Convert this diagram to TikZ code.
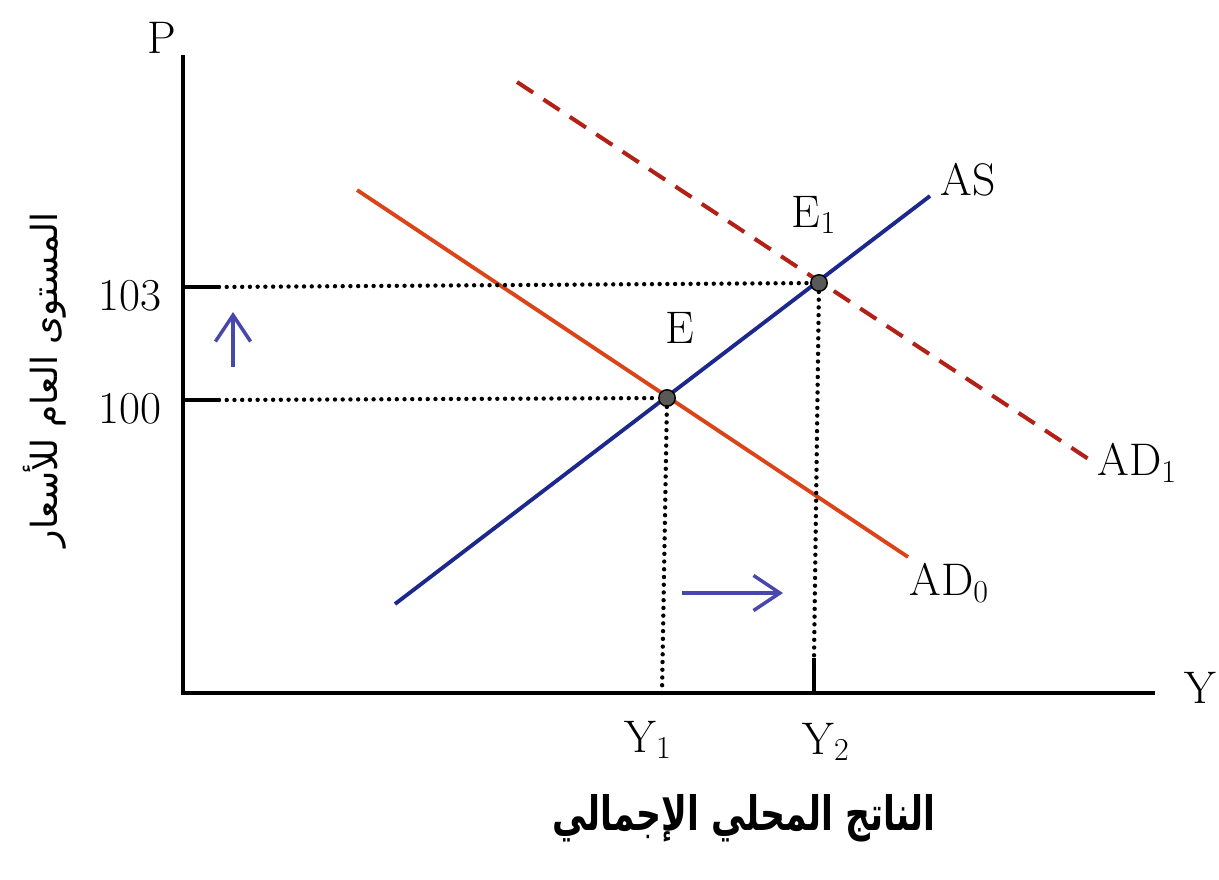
\documentclass[tikz,border=0pt]{standalone}
\usepackage{fontspec}
\usepackage{graphicx}
\usetikzlibrary{arrows.meta}
\TeXXeTstate=1
\newfontfamily\arabicfont[Script=Arabic]{DejaVu Sans}
\definecolor{asblue}{RGB}{28,40,140}
\definecolor{adorange}{RGB}{218,68,24}
\definecolor{adred}{RGB}{178,32,22}
\definecolor{shiftblue}{RGB}{72,72,172}

\begin{document}
\begin{tikzpicture}[
  x=0.02cm, y=-0.02cm,
  every node/.style={font=\fontsize{26}{30}\selectfont, inner sep=0pt},
  axis/.style={line width=2pt, black},
  guide/.style={line width=2.5pt, line cap=round, dash pattern=on 0pt off 4.4pt, black},
  supply/.style={line width=2.2pt, asblue},
  demand/.style={line width=2.2pt, adorange},
  newdemand/.style={line width=2.3pt, adred, dash pattern=on 11pt off 7pt},
  shiftarrow/.style={line width=2pt, shiftblue, -{Straight Barb[length=15pt,width=20pt]}},
  eq/.style={circle, draw=black, fill=black!65, minimum size=0.33cm, line width=0.8pt}
]
  \useasboundingbox (0,0) rectangle (1219,879);

  \coordinate (O) at (183,693);
  \coordinate (Ptop) at (183,55);
  \coordinate (Yend) at (1155,693);
  \draw[axis] (Ptop) -- (O) -- (Yend);
  \node (P) at (162,38) {P};
  \node (Y) at (1200,688) {Y};

  \coordinate (AS0) at (395,604);
  \coordinate (AS1) at (930,196);
  \coordinate (AD00) at (357,190);
  \coordinate (AD01) at (908,557);
  \coordinate (AD10) at (517,82);
  \coordinate (AD11) at (1093,462);
  \draw[demand] (AD00) -- (AD01);
  \draw[newdemand] (AD10) -- (AD11);
  \draw[supply] (AS0) -- (AS1);

  \node[eq] (E) at (667,398) {};
  \node[eq] (E1) at (819,283) {};

  \coordinate (p100) at (183,400);
  \coordinate (t100) at (219,400);
  \coordinate (p103) at (183,287);
  \coordinate (t103) at (219,287);
  \draw[axis, line width=1.8pt] (p100) -- (t100);
  \draw[axis, line width=1.8pt] (p103) -- (t103);
  \draw[guide] (t100) -- (E);
  \draw[guide] (t103) -- (E1);

  \coordinate (y1) at (662,693);
  \coordinate (y2) at (814,693);
  \coordinate (y2t) at (814,658);
  \draw[guide] (E) -- (y1);
  \draw[guide] (E1) -- (y2t);
  \draw[axis, line width=1.8pt] (y2t) -- (y2);

  \node (l103) at (130,296) {103};
  \node (l100) at (130,409) {100};
  \node (Y1) at (648,740) {Y\textsubscript{1}};
  \node (Y2) at (826,742) {Y\textsubscript{2}};

  \node (lAS) at (968,180) {AS};
  \node (lE1) at (814,215) {E\textsubscript{1}};
  \node (lE) at (680,328) {E};
  \node[anchor=west] (lAD1) at (1097,463) {AD\textsubscript{1}};
  \node[anchor=west] (lAD0) at (909,583) {AD\textsubscript{0}};

  \coordinate (up0) at (233,367);
  \coordinate (up1) at (233,312);
  \coordinate (rt0) at (682,593);
  \coordinate (rt1) at (783,593);
  \draw[shiftarrow] (up0) -- (up1);
  \draw[shiftarrow] (rt0) -- (rt1);

  \node[rotate=90] (ylab) at (45,380) {\arabicfont\fontsize{20.5}{26}\selectfont\beginR المستوى العام للأسعار\endR};
  \node (xlab) at (744,818) {\scalebox{0.73}[1]{\arabicfont\bfseries\fontsize{27}{30}\selectfont\beginR الناتج المحلي الإجمالي\endR}};
\end{tikzpicture}
\end{document}
